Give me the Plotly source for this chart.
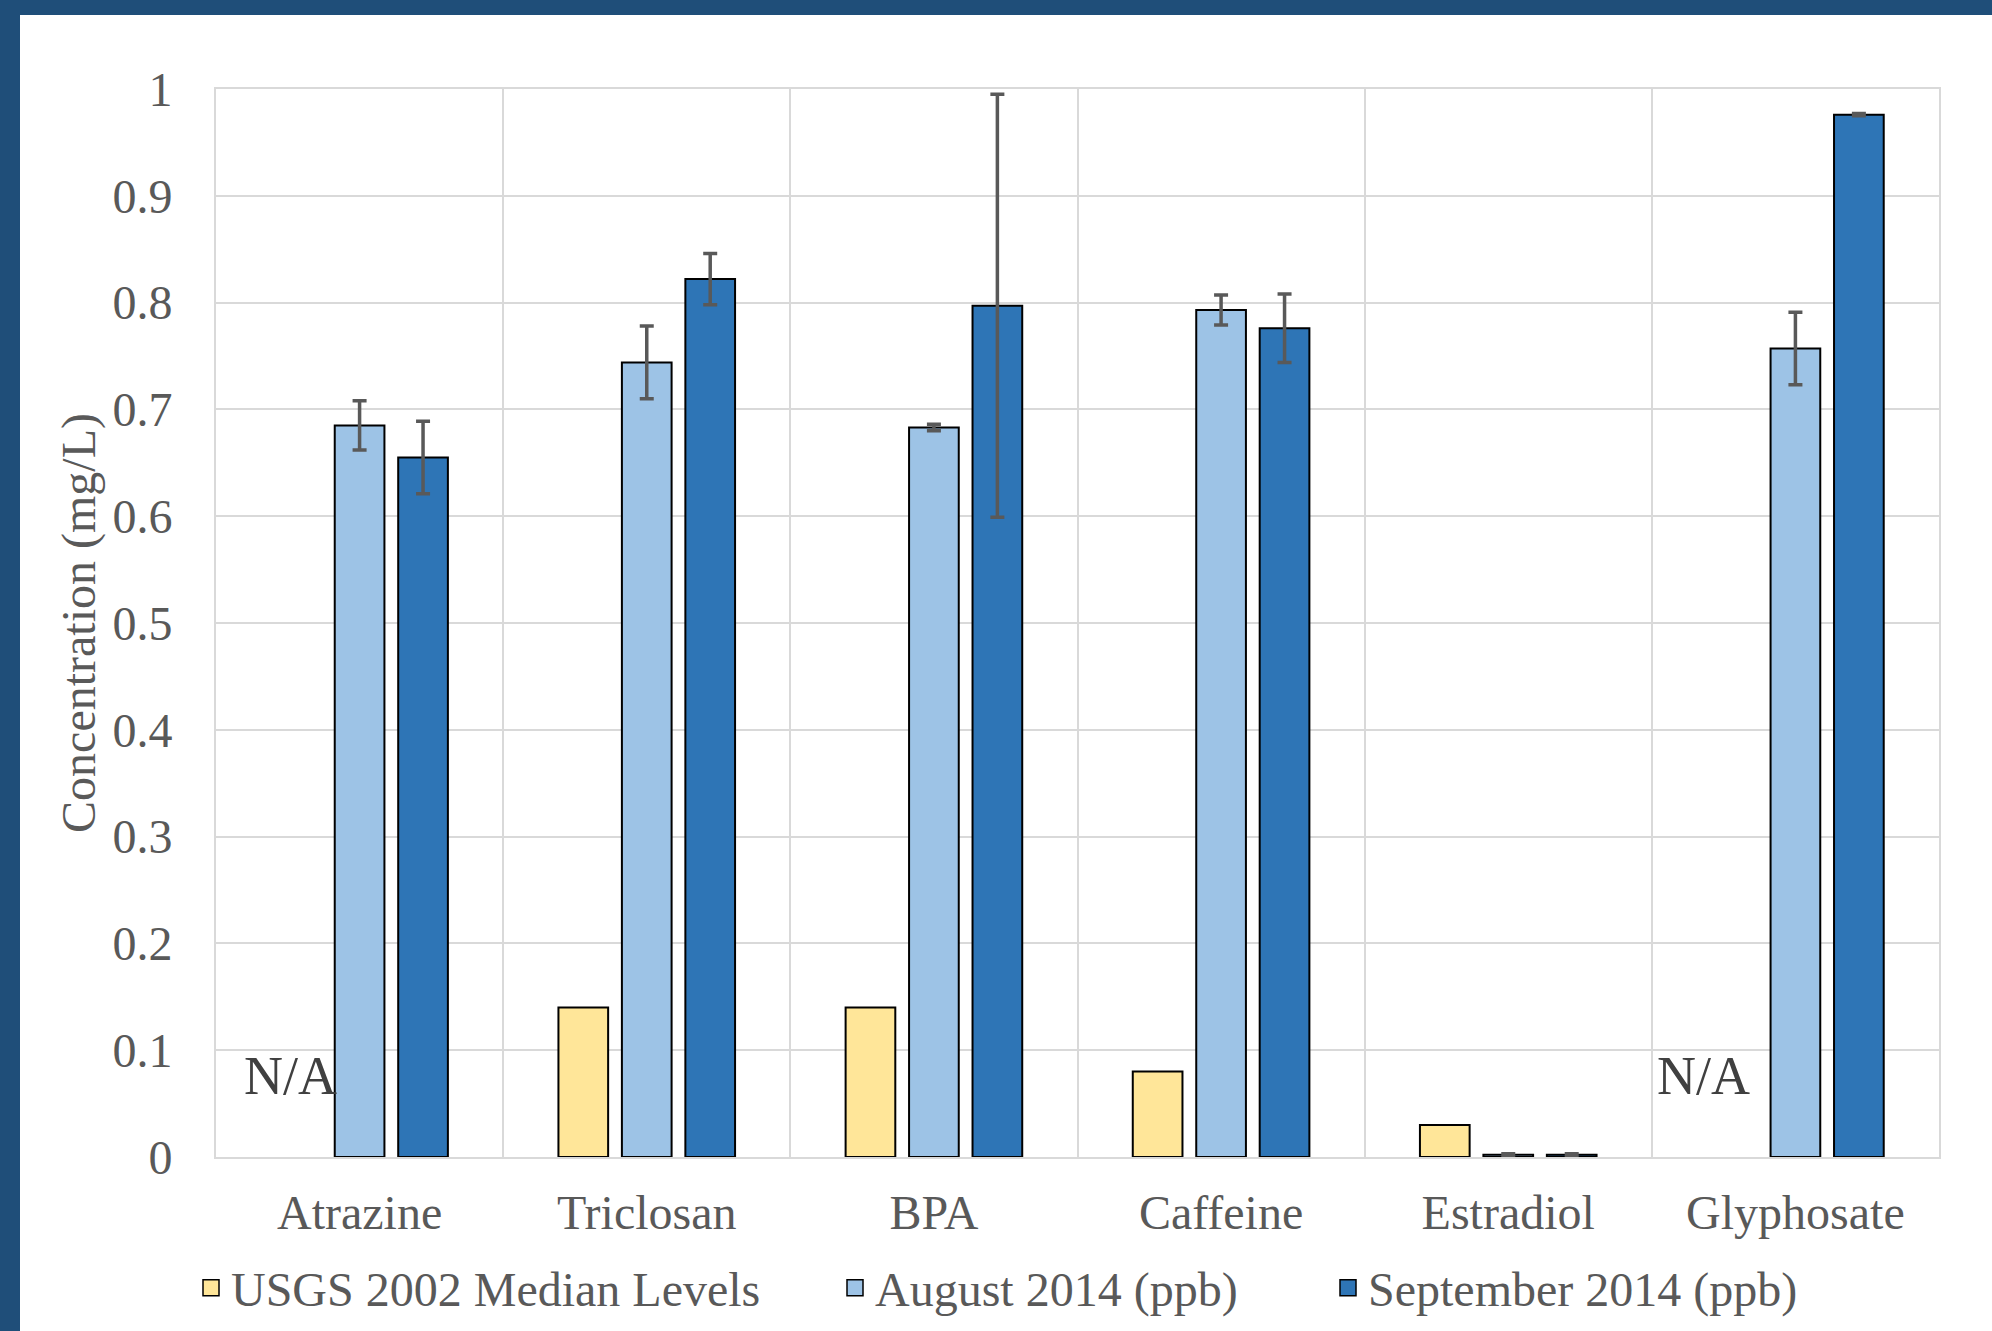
import plotly.graph_objects as go

categories = ["Atrazine", "Triclosan", "BPA", "Caffeine", "Estradiol", "Glyphosate"]
usgs_2002 = [None, 0.14, 0.14, 0.08, 0.03, None]
aug_2014 = [0.685, 0.744, 0.683, 0.793, 0.002, 0.757]
aug_2014_err = [0.023, 0.034, 0.003, 0.014, 0.001, 0.034]
sep_2014 = [0.655, 0.822, 0.797, 0.776, 0.002, 0.976]
sep_2014_err = [0.034, 0.024, 0.198, 0.032, 0.001, 0.001]
series_names = ["USGS 2002 Median Levels", "August 2014 (ppb)", "September 2014 (ppb)"]
colors = ["#FFE699", "#9DC3E6", "#2E75B6"]

FONT = "Liberation Serif, Times New Roman, serif"
GREY = "#595959"
W, H = 1992, 1331
L, R, T, B = 216, 53, 89, 174
PW, PH = W - L - R, H - T - B

def px_x(p):
    return (p - L) / PW

def px_y(p):
    return (H - B - p) / PH

fig = go.Figure()
err_style = dict(type="data", color=GREY, thickness=3.5, width=7, visible=True)
fig.add_trace(go.Bar(x=categories, y=usgs_2002, name=series_names[0],
                     marker=dict(color=colors[0], line=dict(color="black", width=2)),
                     showlegend=False))
fig.add_trace(go.Bar(x=categories, y=aug_2014, name=series_names[1],
                     marker=dict(color=colors[1], line=dict(color="black", width=2)),
                     error_y=dict(array=aug_2014_err, **err_style), showlegend=False))
fig.add_trace(go.Bar(x=categories, y=sep_2014, name=series_names[2],
                     marker=dict(color=colors[2], line=dict(color="black", width=2)),
                     error_y=dict(array=sep_2014_err, **err_style), showlegend=False))

# legend entries (one legend per entry so they can be placed like the original)
legend_ids = ["legend", "legend2", "legend3"]
legend_sym_px = [211, 855, 1348]
for name, col, lid in zip(series_names, colors, legend_ids):
    fig.add_trace(go.Scatter(x=[None], y=[None], mode="markers", name=name, legend=lid,
                             marker=dict(symbol="square", size=22, color=col,
                                         line=dict(color="black", width=1.5))))

leg_common = dict(orientation="h", yanchor="middle", y=px_y(1288), xanchor="left",
                  bgcolor="rgba(0,0,0,0)", font=dict(family=FONT, size=48, color=GREY),
                  itemsizing="trace")
layout_legends = {}
for lid, sx in zip(legend_ids, legend_sym_px):
    layout_legends[lid] = dict(x=px_x(sx - 20), **leg_common)

fig.update_layout(
    width=W, height=H,
    margin=dict(l=L, r=R, t=T, b=B, autoexpand=False),
    paper_bgcolor="white", plot_bgcolor="white",
    barmode="group", bargap=0.337, bargroupgap=0.217,
    font=dict(family=FONT, size=48, color=GREY),
    showlegend=True,
    **layout_legends,
    xaxis=dict(type="category", tickson="boundaries", showgrid=True, gridcolor="#D9D9D9",
               gridwidth=2, showline=True, linecolor="#D9D9D9", linewidth=2, mirror=True,
               ticks="", tickfont=dict(family=FONT, size=48, color=GREY),
               ticklabelstandoff=12, automargin=False, fixedrange=True),
    yaxis=dict(range=[0, 1], dtick=0.1, showgrid=True, gridcolor="#D9D9D9", gridwidth=2,
               showline=True, linecolor="#D9D9D9", linewidth=2, mirror=True, zeroline=False,
               ticks="", tickfont=dict(family=FONT, size=48, color=GREY),
               ticklabelstandoff=32, automargin=False,
               title=dict(text="Concentration (mg/L)", standoff=2,
                          font=dict(family=FONT, size=48, color=GREY))),
    annotations=[
        dict(x=-0.24, y=0.076, xref="x", yref="y", text="N/A", showarrow=False,
             font=dict(family=FONT, size=54, color="#404040")),
        dict(x=4.68, y=0.076, xref="x", yref="y", text="N/A", showarrow=False,
             font=dict(family=FONT, size=54, color="#404040")),
    ],
    shapes=[
        dict(type="rect", xref="paper", yref="paper", x0=px_x(0), x1=px_x(20),
             y0=px_y(H), y1=px_y(0), fillcolor="#1F4E79", line=dict(width=0), layer="above"),
        dict(type="rect", xref="paper", yref="paper", x0=px_x(0), x1=px_x(W),
             y0=px_y(15), y1=px_y(0), fillcolor="#1F4E79", line=dict(width=0), layer="above"),
    ],
)

fig.write_html("out.html", config={"displayModeBar": False},
               post_script="document.body.style.margin='0';")
